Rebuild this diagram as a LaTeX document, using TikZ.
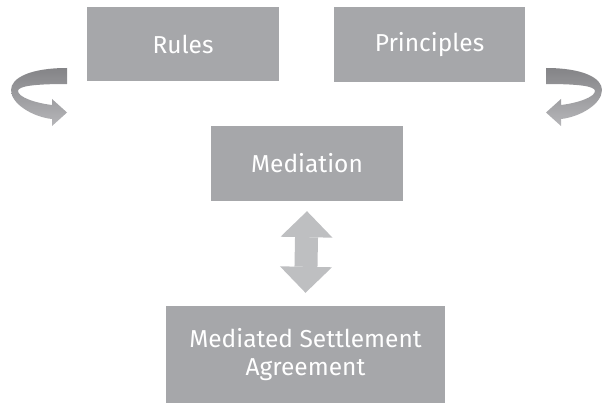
\documentclass[tikz,border=0pt]{standalone}
\usepackage{fontspec}
\setmainfont{Fira Sans}
\usepackage{tikz}
\usetikzlibrary{arrows.meta}
\definecolor{boxgray}{RGB}{166, 167, 170}
\definecolor{light}{RGB}{190, 191, 193}
\definecolor{ribtop}{RGB}{132, 132, 135}
\definecolor{ribbot}{RGB}{182, 182, 185}

\begin{document}
\begin{tikzpicture}[
   x=1pt, y=-1pt,
   stage/.style={rectangle, fill=boxgray, text=white, inner sep=0,
                 font=\fontsize{24.5}{28.5}\selectfont, align=center},
   dbl/.style={draw=light, line width=23,
               {Triangle[width=52, length=26, line width=0]}-{Triangle[width=52, length=26, line width=0]}},
   ribbon/.style={top color=ribtop, bottom color=ribbot, draw=none}
  ]

  \useasboundingbox (0, 0) rectangle (603, 404);

  \node (R) at (183, 44) [stage, minimum width=192, minimum height=74] {Rules};
  \node (P) at (429.5, 44.5) [stage, minimum width=191, minimum height=75] {Principles};

  \node (M) at (307, 163.5) [stage, minimum width=192, minimum height=75] {Mediation};

  \node (S) at (305.5, 354.5) [stage, minimum width=279, minimum height=97]
       {Mediated Settlement\\Agreement};

  \draw[dbl] ([yshift=-10]M.south) -- ([yshift=13]S.north);

  % turning arrows beside the top row
  \foreach \s/\o in {1/0, -1/613} {
    \begin{scope}[shift={(\o, 0)}, xscale=\s]
      \shade[ribbon] (67, 68) .. controls (30, 68) and (11, 78) .. (11, 90)
        .. controls (11, 104) and (33, 117) .. (52, 119) -- (52, 126) -- (67, 112.5)
        -- (52, 99) -- (52, 105) .. controls (35, 103) and (18, 97) .. (18, 91)
        .. controls (18, 86) and (35, 84) .. (67, 84) -- cycle;
    \end{scope}
  }

\end{tikzpicture}
\end{document}
